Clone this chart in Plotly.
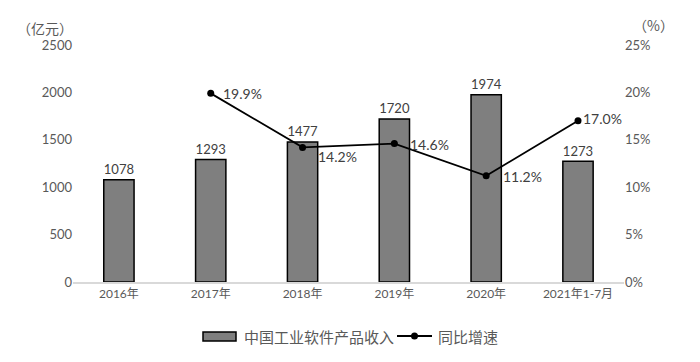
import plotly.graph_objects as go

categories = ["2016年", "2017年", "2018年", "2019年", "2020年", "2021年1-7月"]
revenue = [1078, 1293, 1477, 1720, 1974, 1273]
growth = [None, 19.9, 14.2, 14.6, 11.2, 17.0]
bar_name = "中国工业软件产品收入"
line_name = "同比增速"

# label offsets (px) for growth labels: (xshift, yshift)
growth_offsets = [None, (10, 0), (13, -9), (14, -1), (15, -1), (3, 2)]

FONT = "Lato, Noto Sans CJK SC, sans-serif"
CJK = "Noto Sans CJK SC"
# page has an 8px body margin; figure sized to fit the 700x362 window exactly
W, H = 684, 346
L, T = 65, 37
PR, PB = 616, 274
pw, ph = PR - L, PB - T


def px(fx):
    return (fx - L) / pw


def py(fy):
    return (PB - fy) / ph


fig = go.Figure()
fig.add_trace(go.Bar(
    x=categories, y=revenue, name=bar_name, showlegend=False,
    marker=dict(color="#7f7f7f", line=dict(color="#000000", width=1.5)),
    width=0.33, text=[str(v) for v in revenue], textposition="outside",
    textfont=dict(family=FONT, size=14, color="#404040"), cliponaxis=False,
))
fig.add_trace(go.Scatter(
    x=categories, y=growth, name=line_name, yaxis="y2", mode="lines+markers",
    showlegend=False,
    line=dict(color="#000000", width=1.8), marker=dict(color="#000000", size=7),
    cliponaxis=False,
))
for cat, g, off in zip(categories, growth, growth_offsets):
    if g is None:
        continue
    fig.add_annotation(x=cat, y=g, xref="x", yref="y2", text=f"{g:.1f}%",
                       showarrow=False, xanchor="left", yanchor="middle",
                       xshift=off[0], yshift=off[1],
                       font=dict(family=FONT, size=14, color="#404040"))

fig.update_layout(
    width=W, height=H, margin=dict(l=L, r=W - PR, t=T, b=H - PB),
    paper_bgcolor="white", plot_bgcolor="white",
    font=dict(family=FONT, size=13, color="#595959"),
    showlegend=False,
    xaxis=dict(showgrid=False, showline=True, linecolor="#d9d9d9", linewidth=1.5,
               ticks="", tickfont=dict(size=12, color="#595959")),
    yaxis=dict(range=[0, 2500], dtick=500, showgrid=False, showline=False,
               zeroline=False, ticks="", tickfont=dict(size=13, color="#595959")),
    yaxis2=dict(range=[0, 25], dtick=5, overlaying="y", side="right", showgrid=False,
                ticksuffix="%", zeroline=False, ticks="", tickfont=dict(size=13, color="#595959")),
)
fig.add_annotation(text="（亿元）", xref="paper", yref="paper", x=px(7), y=py(20),
                   xanchor="left", yanchor="middle", showarrow=False,
                   font=dict(family=CJK, size=14, color="#595959"))
fig.add_annotation(text="（%）", xref="paper", yref="paper", x=px(623), y=py(17),
                   xanchor="left", yanchor="middle", showarrow=False,
                   font=dict(family=CJK, size=14, color="#595959"))

# custom legend
fig.add_shape(type="rect", xref="paper", yref="paper", x0=px(195), x1=px(228), y0=py(333), y1=py(324),
              line=dict(color="#000000", width=1.5), fillcolor="#7f7f7f")
fig.add_annotation(text=bar_name, xref="paper", yref="paper", x=px(234), y=py(328),
                   xanchor="left", yanchor="middle", showarrow=False,
                   font=dict(family=CJK, size=15, color="#595959"))
fig.add_shape(type="line", xref="paper", yref="paper", x0=px(389), x1=px(424), y0=py(328), y1=py(328),
              line=dict(color="#000000", width=1.8))
fig.add_shape(type="circle", xref="paper", yref="paper", x0=px(403), x1=px(410), y0=py(331.5), y1=py(324.5),
              line=dict(color="#000000", width=0), fillcolor="#000000")
fig.add_annotation(text=line_name, xref="paper", yref="paper", x=px(428), y=py(328),
                   xanchor="left", yanchor="middle", showarrow=False,
                   font=dict(family=CJK, size=15, color="#595959"))

fig.write_html("out.html")
